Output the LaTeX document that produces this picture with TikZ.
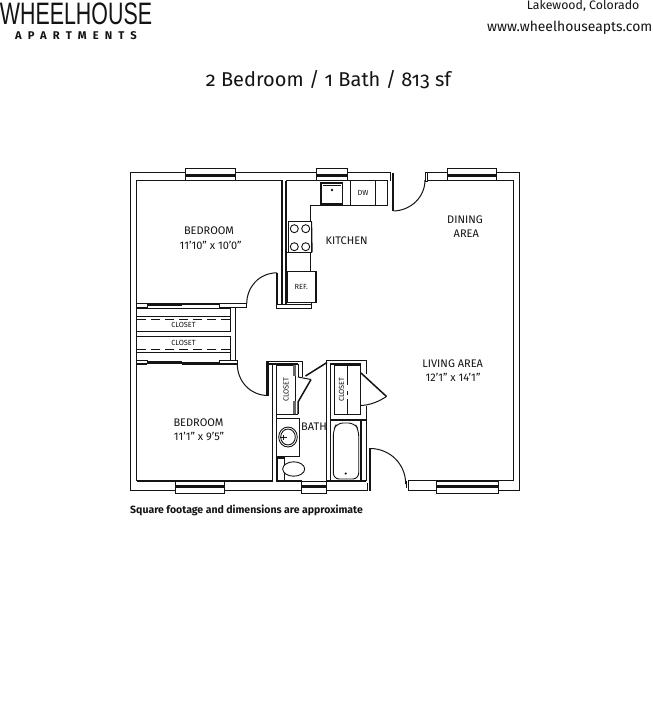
\documentclass[tikz,border=0pt]{standalone}
\usepackage{fontspec}
\setmainfont[Numbers=OldStyle]{Fira Sans}
\newfontfamily\lin[Numbers=Lining]{Fira Sans}
\newfontfamily\spaced[LetterSpace=55]{Fira Sans}
\newfontfamily\logo{Liberation Sans}
\definecolor{ink}{HTML}{141414}
\tikzset{
 wall/.style={draw=ink,line width=1.5pt,line cap=butt,line join=miter},
 thinwall/.style={draw=ink,line width=1pt,line join=miter},
 fix/.style={draw=ink,line width=0.9pt},
 swing/.style={draw=ink,line width=1pt},
 heavy/.style={draw=ink,line width=2.4pt},
 slat/.style={draw=ink,line width=0.9pt,dash pattern=on 9pt off 5pt},
 roomlabel/.style={font=\lin\fontsize{11}{13}\selectfont,text=ink,inner sep=0pt},
 smalllabel/.style={font=\lin\fontsize{7.4}{9}\selectfont,text=ink,inner sep=0pt},
}
\newcommand{\wintop}[2]{\draw[fix,fill=white] (#1,168.7) rectangle (#2,180.7); \draw[draw=ink,line width=3pt] (#1,175) -- (#2,175);}
\newcommand{\winbot}[2]{\draw[fix,fill=white] (#1,481) rectangle (#2,493); \draw[draw=ink,line width=3pt] (#1,486.3) -- (#2,486.3);}
\begin{document}
\begin{tikzpicture}[x=1pt,y=-1pt]
\useasboundingbox[fill=white] (0,0) rectangle (653,720);
% header
\node[font=\logo\fontsize{31}{31}\selectfont,text=ink,inner sep=0pt,anchor=center,xscale=0.69] (brand) at (76,14) {WHEELHOUSE};
\node[font=\spaced\bfseries\fontsize{11.2}{12}\selectfont,text=ink,inner sep=0pt] (sub) at (76,35.5) {APARTMENTS};
\node[font=\lin\fontsize{12.3}{14}\selectfont,text=ink,inner sep=0pt,anchor=east] (city) at (639.5,6) {Lakewood, Colorado};
\node[font=\lin\fontsize{13.9}{16}\selectfont,text=ink,inner sep=0pt,anchor=east] (web) at (652.5,28) {www.wheelhouseapts.com};
\node[font=\fontsize{20}{22}\selectfont,text=ink,inner sep=0pt] (title) at (328.5,79.5) {2 Bedroom / 1 Bath / 813 sf};
\node[font=\lin\fontsize{10.5}{12}\selectfont\bfseries,text=ink,inner sep=0pt,anchor=west] (note) at (130,510.5) {Square footage and dimensions are approximate};
% outer shell, west part
\draw[thinwall] (390.7,181) -- (390.7,172) -- (130,172) -- (130,490.7) -- (367.7,490.7) -- (367.7,483);
% outer shell, east part
\draw[thinwall] (427,181) -- (427,172) -- (519.3,172) -- (519.3,490.7) -- (408.3,490.7) -- (408.3,481);
\draw[wall] (427,180.7) -- (513.3,180.7) -- (513.3,480.7) -- (408.3,480.7);
% upper bedroom
\draw[wall] (147,303.7) -- (136.7,303.7) -- (136.7,180.7) -- (282,180.7) -- (282,304);
\draw[thinwall] (136.7,307.7) -- (147,307.7) -- (147,303.7);
\draw[thinwall] (219.3,303.7) -- (246.7,303.7) -- (246.7,307.7) -- (235,307.7) -- (235,360.7);
\draw[thinwall] (219.3,303.7) -- (219.3,307.7) -- (235,307.7);
\draw[heavy] (147,304.6) -- (182,304.6);
\draw[heavy] (182,303.8) -- (219.3,303.8);
% closets between bedrooms
\draw[wall] (136.7,303.7) -- (136.7,481);
\draw[thinwall] (136.7,308) -- (230.7,308) -- (230.7,331.7);
\draw[thinwall] (136.7,316) -- (230.7,316);
\draw[slat] (137,319.5) -- (230.7,319.5);
\draw[wall] (136.7,331.7) -- (230.7,331.7);
\draw[thinwall] (136.7,336.7) -- (230.7,336.7) -- (230.7,360.7);
\draw[slat] (137,349) -- (230.7,349);
\draw[wall] (136.7,352.3) -- (230.7,352.3);
% lower bedroom
\draw[thinwall] (147,364) -- (147,360.7) -- (136.7,360.7);
\draw[wall] (136.7,364) -- (147,364);
\draw[thinwall] (219.3,364) -- (219.3,360.7) -- (237.3,360.7) -- (237.3,364);
\draw[wall] (219.3,364) -- (237.3,364);
\draw[heavy] (147,362.6) -- (182,362.6);
\draw[heavy] (182,363.4) -- (219.3,363.4);
\draw[wall] (136.7,481) -- (272.7,481) -- (272.7,364) -- (269,364);
% door to lower bedroom
\draw[swing] (237.3,364) .. controls (237.3,381) and (250,395.5) .. (268,395.5);
\draw[heavy] (267.6,396) -- (267.6,361);
% door to upper bedroom
\draw[swing] (246.7,304) .. controls (246.7,287) and (259,273) .. (277,272.8);
\draw[heavy] (277,272.8) -- (277,304);
% wall between bedroom and kitchen
\draw[thinwall] (276,304) -- (311.7,304);
\draw[thinwall] (276,304) -- (276,308.3) -- (311.7,308.3) -- (311.7,303);
\draw[wall] (286,180.7) -- (286,304);
% kitchen
\draw[wall] (286,180.7) -- (388,180.7);
\draw[fix] (387.3,180.7) -- (387.3,205.7) -- (310.7,205.7) -- (310.7,271);
\draw[fix] (286,252.3) -- (310.7,252.3);
\draw[fix,fill=white] (288.3,221.7) rectangle (311.7,252.3);
\draw[fix] (311.7,221.7) -- (312.2,252.3);
\foreach \px/\py in {294.3/228.7,305.7/228.7,294.3/246.7,305.7/246.7}
  \draw[fix] (\px,\py) circle[radius=4];
\draw[fix,fill=white] (286,271) rectangle (316,302.7);
\draw[wall] (287,271) -- (287,302.7);
\draw[wall] (315.5,271) -- (315.5,302.7);
\draw[wall] (321,183) rectangle (342.7,204);
\draw[fix] (323,185) -- (341,185);
\fill[ink] (332,190) circle[radius=1.4];
\draw[fix] (350.7,180.7) -- (350.7,205.7);
\draw[wall] (375.3,180.7) -- (375.3,205.7);
% front door (kitchen side)
\draw[heavy] (393.2,173) -- (393.2,211);
\draw[swing] (393.5,211) .. controls (411,210.5) and (425,197) .. (425,180);
\draw[thinwall] (425,172) rectangle (427,181);
% bath top walls and closet
\draw[wall] (276.7,364) -- (276.7,481);
\draw[thinwall] (267.3,361) -- (302.7,361) -- (302.7,377);
\draw[thinwall] (298,364) -- (298,377);
\draw[wall] (269,364) -- (298,364);
\draw[fix] (276.7,365) rectangle (295,414);
\fill[ink!65] (293,365) rectangle (295.6,376);
\fill[ink!65] (293,401) rectangle (295.6,414);
\draw[thinwall] (298,377) -- (311,379.5);
\draw[wall] (311,379.5) -- (298,402) -- (298,414);
\draw[thinwall] (295.6,414) -- (298,414);
\draw[wall] (305.5,376) -- (327,362.5);
% vanity and toilet
\draw[fix] (276.7,418) -- (299,418) -- (299,456.7) -- (276.7,456.7);
\draw[fix] (288,437) ellipse[x radius=9.3,y radius=10];
\draw[fix] (288,437) ellipse[x radius=7.3,y radius=8];
\draw[fix] (280,437.5) -- (287,437.5);
\draw[fix] (283,435) -- (283,440);
\draw[wall] (277,458) rectangle (284.7,481);
\draw[fix,fill=white] (293.7,469) ellipse[x radius=11,y radius=7.2];
% bath bottom
\draw[wall] (276.7,481) -- (301.7,481);
\draw[wall] (326.7,481) -- (366,481);
% wall between bath and closet / tub
\draw[thinwall] (326.7,481) -- (326.7,360.3) -- (366,360.3) -- (366,374);
\draw[wall] (330.3,481) -- (330.3,364) -- (360.7,364) -- (360.7,373);
\draw[fix] (334,365) rectangle (360.7,414);
\draw[wall] (347.7,365) -- (347.7,385);
\draw[wall] (347.7,391) -- (347.7,395);
\draw[wall] (347.7,399) -- (347.7,414);
\draw[wall] (360.7,405.7) -- (360.7,414);
\draw[wall] (361,373) -- (386.5,396.5);
\draw[swing] (386.5,396.5) .. controls (378,402) and (370,405) .. (361,405.5);
\draw[thinwall] (366,405.7) -- (366,481);
\draw[wall] (330.3,420) -- (366,420);
\draw[wall] (361,420) -- (361,481);
\draw[fix,rounded corners=6pt] (333.3,479) -- (333.3,430) -- (337,423) -- (354.5,423) -- (358.7,430) -- (358.7,479) -- cycle;
\fill[ink] (345.7,473.5) circle[radius=1.2];
% entry door
\draw[heavy] (370.2,448) -- (370.2,490.7);
\draw[swing] (371,448.5) .. controls (390,449) and (405.7,464) .. (405.7,484);
\draw[fix] (406,481) -- (406,488);
% windows
\wintop{185.7}{235}
\wintop{316.7}{347.3}
\wintop{447.7}{496.7}
\winbot{175}{224.7}
\winbot{301.7}{326.7}
\winbot{436.7}{498.3}
% labels
\node[roomlabel] (bed1) at (209,231) {BEDROOM};
\node[roomlabel] (bed1d) at (210.7,245) {11’10” x 10’0”};
\node[smalllabel] (cl1) at (183.5,325.3) {CLOSET};
\node[smalllabel] (cl2) at (183.5,342.7) {CLOSET};
\node[roomlabel] (kit) at (346.7,241) {KITCHEN};
\node[smalllabel] (dw) at (363,193.3) {DW};
\node[smalllabel] (ref) at (301.3,286.5) {REF.};
\node[roomlabel] (din) at (465,220) {DINING};
\node[roomlabel] (din2) at (466.3,233.7) {AREA};
\node[roomlabel] (liv) at (452.7,363.7) {LIVING AREA};
\node[roomlabel] (livd) at (453,377) {12’1” x 14’1”};
\node[roomlabel] (bed2) at (198.5,423) {BEDROOM};
\node[roomlabel] (bed2d) at (199,436.5) {11’1” x 9’5”};
\node[roomlabel] (bath) at (314,427) {BATH};
\node[smalllabel,rotate=90] (cl3) at (286,389.5) {CLOSET};
\node[smalllabel,rotate=90] (cl4) at (341.5,389.5) {CLOSET};
\end{tikzpicture}
\end{document}
